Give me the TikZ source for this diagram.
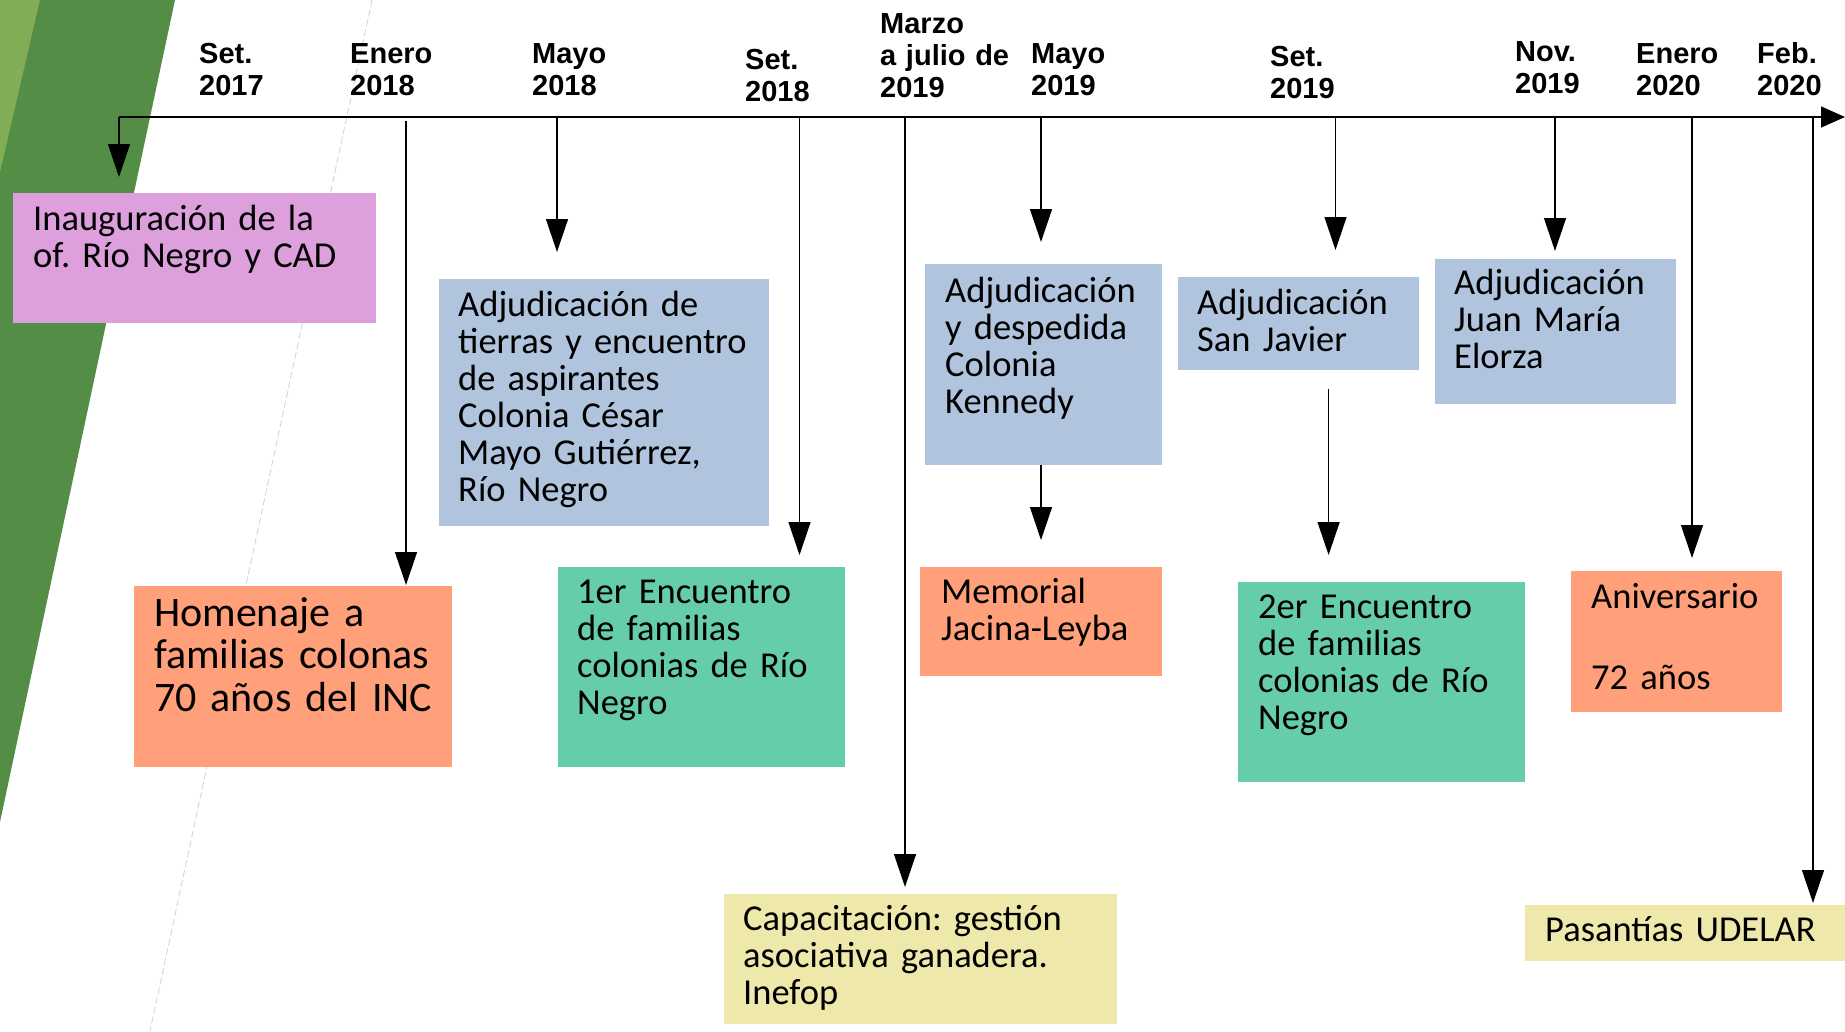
\documentclass[tikz,border=0pt]{standalone}
\usepackage{fontspec}
\setmainfont{Carlito}
\newfontfamily\datefont{Liberation Sans}
\usetikzlibrary{arrows.meta}
\definecolor{bandDark}{RGB}{84,141,70}
\definecolor{bandLight}{RGB}{130,172,86}
\definecolor{evPink}{RGB}{221,160,221}
\definecolor{evBlue}{RGB}{176,196,222}
\definecolor{evSalmon}{RGB}{255,160,122}
\definecolor{evGreen}{RGB}{102,205,170}
\definecolor{evYellow}{RGB}{238,232,170}
\newcommand\evtightspace[1]{\setlength{\spaceskip}{#1em}}
\tikzset{
  evbox/.style={anchor=north west, inner ysep=0pt, align=left, text=black,
    font={\fontsize{36.5}{37}\selectfont\evtightspace{0.17}}},
  datelbl/.style={anchor=base west, inner sep=0pt, align=left, text width=150pt,
    font=\datefont\bfseries\fontsize{29}{32}\selectfont},
  conn/.style={line width=1.3pt, -{Triangle[width=22pt,length=33pt]}},
  axisline/.style={line width=1.3pt, -{Triangle[width=21pt,length=24pt]}},
}
\begin{document}
\begin{tikzpicture}[x=1pt,y=-1pt]
\useasboundingbox (0,0) rectangle (1845,1031);
\fill[white] (0,0) rectangle (1845,1031);
% decorative band
\fill[bandDark] (0,0) -- (175,0) -- (0,822) -- cycle;
\fill[bandLight] (0,0) -- (40,0) -- (0,172) -- cycle;
\draw[gray!35, line width=0.8pt, dash pattern=on 7pt off 3pt] (372,0) -- (150,1031);

% event boxes
\node[evbox, fill=evPink, inner xsep=20pt, text width=323pt, text height=37pt, text depth=93pt] (ev1) at (13,193)
  {Inauguración~de~la\\of.~Río~Negro~y~CAD};
\node[evbox, fill=evSalmon, inner xsep=20pt, text width=278pt, text height=40pt, text depth=141pt,
  font={\fontsize{42}{42.5}\selectfont\evtightspace{0.14}}] (ev2) at (134,586)
  {Homenaje~a\\familias~colonas\\70~años~del~INC};
\node[evbox, fill=evBlue, inner xsep=19pt, text width=292pt, text height=37pt, text depth=210pt] (ev3) at (439,279)
  {Adjudicación~de\\tierras~y~encuentro\\de~aspirantes\\Colonia~César\\Mayo~Gutiérrez,\\Río~Negro};
\node[evbox, fill=evGreen, inner xsep=19pt, text width=249pt, text height=36pt, text depth=164pt] (ev4) at (558,567)
  {1er~Encuentro\\de~familias\\colonias~de~Río\\Negro};
\node[evbox, fill=evYellow, inner xsep=19pt, text width=355pt, text height=36pt, text depth=94pt] (ev5) at (724,894)
  {Capacitación:~gestión\\asociativa~ganadera.\\Inefop};
\node[evbox, fill=evBlue, inner xsep=20pt, text width=197pt, text height=38pt, text depth=163pt] (ev6) at (925,264)
  {Adjudicación\\y~despedida\\Colonia\\Kennedy};
\node[evbox, fill=evSalmon, inner xsep=21pt, text width=200pt, text height=36pt, text depth=73pt] (ev7) at (920,567)
  {Memorial\\Jacina-Leyba};
\node[evbox, fill=evBlue, inner xsep=19pt, text width=203pt, text height=37pt, text depth=56pt] (ev8) at (1178,277)
  {Adjudicación\\San~Javier};
\node[evbox, fill=evGreen, inner xsep=20pt, text width=247pt, text height=36pt, text depth=164pt] (ev9) at (1238,582)
  {2er~Encuentro\\de~familias\\colonias~de~Río\\Negro};
\node[evbox, fill=evBlue, inner xsep=19pt, text width=203pt, text height=35pt, text depth=110pt] (ev10) at (1435,259)
  {Adjudicación\\Juan~María\\Elorza};
\node[evbox, fill=evSalmon, inner xsep=20pt, text width=171pt, text height=37pt, text depth=104pt,
  font={\fontsize{36.5}{40.5}\selectfont\evtightspace{0.17}}] (ev11) at (1571,571)
  {Aniversario\\\mbox{}\\72~años};
\node[evbox, fill=evYellow, inner xsep=20pt, text width=280pt, text height=36pt, text depth=20pt] (ev12) at (1525,905)
  {Pasantías~UDELAR};

% axis and connector coordinates
\coordinate (axL) at (119,117);
\coordinate (axR) at (1845,117);
\coordinate (c1) at (119,177);
\coordinate (s2) at (406,121);    \coordinate (c2) at (406,585);
\coordinate (s3) at (557,117);    \coordinate (c3) at (557,252);
\coordinate (s4) at (799.5,117);  \coordinate (c4) at (799.5,555);
\coordinate (s5) at (905,117);    \coordinate (c5) at (905,887);
\coordinate (s6) at (1041,117);   \coordinate (c6) at (1041,242);
\coordinate (s7) at (1041,465);   \coordinate (c7) at (1041,540);
\coordinate (s8) at (1335.5,117); \coordinate (c8) at (1335.5,250);
\coordinate (s9) at (1328.6,389); \coordinate (c9) at (1328.6,555);
\coordinate (s10) at (1555,117);  \coordinate (c10) at (1555,251);
\coordinate (s11) at (1692,117);  \coordinate (c11) at (1692,558);
\coordinate (s12) at (1813,117);  \coordinate (c12) at (1813,903);

\draw[axisline] (axL) -- (axR);
\draw[conn] (axL) -- (c1);
\draw[conn] (s2) -- (c2);
\draw[conn] (s3) -- (c3);
\draw[conn] (s4) -- (c4);
\draw[conn] (s5) -- (c5);
\draw[conn] (s6) -- (c6);
\draw[conn] (s7) -- (c7);
\draw[conn] (s8) -- (c8);
\draw[conn] (s9) -- (c9);
\draw[conn] (s10) -- (c10);
\draw[conn] (s11) -- (c11);
\draw[conn] (s12) -- (c12);

% date labels
\node[datelbl] (d1) at (199,63) {Set.\\2017};
\node[datelbl] (d2) at (350,63) {Enero\\2018};
\node[datelbl] (d3) at (532,63) {Mayo\\2018};
\node[datelbl] (d4) at (745,69) {Set.\\2018};
\node[datelbl] (d5) at (880,33) {Marzo\\a julio de\\2019};
\node[datelbl] (d6) at (1031,63) {Mayo\\2019};
\node[datelbl] (d7) at (1270,66) {Set.\\2019};
\node[datelbl] (d8) at (1515,61) {Nov.\\2019};
\node[datelbl] (d9) at (1636,63) {Enero\\2020};
\node[datelbl] (d10) at (1757,63) {Feb.\\2020};
\end{tikzpicture}
\end{document}
